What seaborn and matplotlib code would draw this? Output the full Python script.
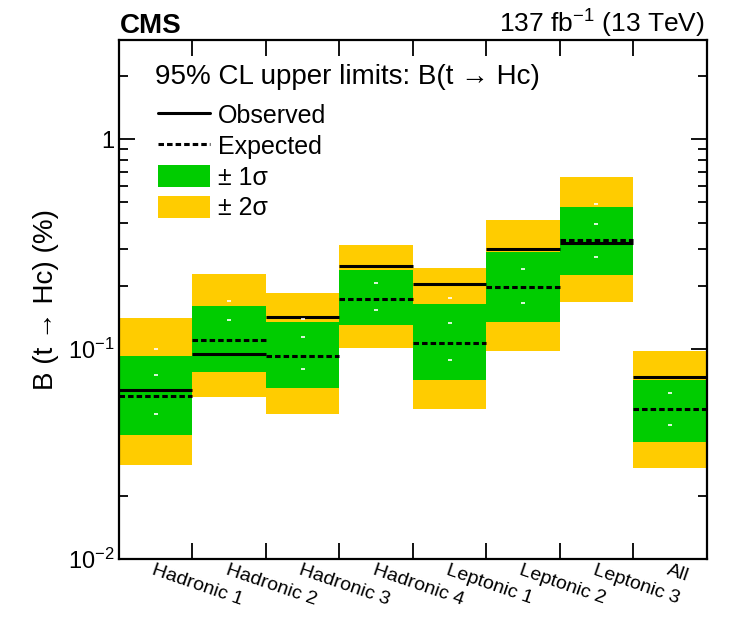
import numpy as np
import matplotlib
matplotlib.use("Agg")
import matplotlib.pyplot as plt
from matplotlib.lines import Line2D
from matplotlib.patches import Patch
from matplotlib.ticker import NullFormatter, FixedLocator
import seaborn as sns

# Upper limits on B(t -> Hc) in %, per analysis category
categories = ["Hadronic 1", "Hadronic 2", "Hadronic 3", "Hadronic 4",
              "Leptonic 1", "Leptonic 2", "Leptonic 3", "All"]
observed = [0.064, 0.095, 0.143, 0.249, 0.204, 0.301, 0.320, 0.0735]
expected = [0.0595, 0.111, 0.093, 0.174, 0.107, 0.197, 0.330, 0.0518]
minus_1sigma = [0.0391, 0.0777, 0.0654, 0.130, 0.071, 0.135, 0.225, 0.036]
plus_1sigma = [0.0929, 0.1607, 0.1345, 0.239, 0.164, 0.290, 0.474, 0.0714]
minus_2sigma = [0.0281, 0.0593, 0.0489, 0.101, 0.0518, 0.0985, 0.1675, 0.027]
plus_2sigma = [0.1405, 0.229, 0.185, 0.313, 0.243, 0.413, 0.664, 0.0985]

# Small white markers left over from the band graphs
marker_bin = [0, 0, 0, 1, 1, 2, 2, 2, 3, 3, 4, 4, 4, 5, 5, 6, 6, 6, 7, 7]
marker_val = [0.100, 0.0756, 0.049, 0.169, 0.137, 0.139, 0.114, 0.080,
              0.206, 0.154, 0.176, 0.133, 0.0886, 0.241, 0.166,
              0.49, 0.394, 0.276, 0.062, 0.0436]

y_major = [0.01, 0.1, 1]
y_major_labels = [r"$10^{-2}$", r"$10^{-1}$", "1"]

GREEN = "#00cc00"
YELLOW = "#ffcc00"

sns.set_style("ticks")
plt.rcParams.update({
    "font.family": ["Liberation Sans", "DejaVu Sans"],
    "mathtext.fontset": "custom",
    "mathtext.rm": "Liberation Sans",
    "mathtext.it": "Liberation Sans:italic",
    "text.color": "black",
    "axes.labelcolor": "black",
    "axes.edgecolor": "black",
    "xtick.color": "black",
    "ytick.color": "black",
    "xtick.direction": "in",
    "ytick.direction": "in",
    "xtick.top": True,
    "xtick.bottom": True,
    "ytick.left": True,
    "ytick.right": True,
    "xtick.minor.top": True,
    "xtick.minor.bottom": True,
    "ytick.minor.left": True,
    "ytick.minor.right": True,
})

fig = plt.figure(figsize=(7.30, 6.17), dpi=100)
ax = fig.add_axes([0.163, 0.094, 0.805, 0.841])

x = np.arange(len(categories))
lo2, hi2 = np.array(minus_2sigma), np.array(plus_2sigma)
lo1, hi1 = np.array(minus_1sigma), np.array(plus_1sigma)

ax.bar(x, hi2 - lo2, bottom=lo2, width=1.0, color=YELLOW, linewidth=0, zorder=1)
ax.bar(x, hi1 - lo1, bottom=lo1, width=1.0, color=GREEN, linewidth=0, zorder=2)
ax.hlines(expected, x - 0.5, x + 0.5, colors="black", linewidth=2.2,
          linestyles=(0, (1.8, 1.0)), zorder=3)
ax.hlines(observed, x - 0.5, x + 0.5, colors="black", linewidth=2.2, zorder=4)
ax.plot(marker_bin, marker_val, linestyle="none", marker="_", color="white",
        markersize=3, markeredgewidth=1.2, zorder=5)

ax.set_yscale("log")
ax.set_ylim(0.01, 2.97)
ax.set_xlim(-0.5, len(categories) - 0.5)

# y axis: decades labelled, 2..9 minor ticks, inward on both sides
y_minor = [m * d for d in y_major for m in range(2, 10)]
ax.yaxis.set_major_locator(FixedLocator(y_major))
ax.set_yticklabels(y_major_labels)
ax.yaxis.set_minor_locator(FixedLocator(y_minor))
ax.yaxis.set_minor_formatter(NullFormatter())
ax.tick_params(axis="y", which="major", length=11.5, width=1.3,
               labelsize=17, pad=3)
ax.tick_params(axis="y", which="minor", length=6.5, width=1.3)

# x axis: ticks at bin edges (bottom and top), labels at bin centres
ax.xaxis.set_major_locator(FixedLocator(x))
ax.set_xticklabels(categories, rotation=-19, ha="left", va="top",
                   rotation_mode="anchor", fontsize=14)
ax.xaxis.set_minor_locator(FixedLocator(np.arange(0.5, len(categories) - 0.5)))
ax.xaxis.set_minor_formatter(NullFormatter())
ax.tick_params(axis="x", which="major", length=0, pad=2)
ax.tick_params(axis="x", which="minor", length=11.5, width=1.3)

for sp in ax.spines.values():
    sp.set_linewidth(1.6)
    sp.set_zorder(10)

ax.set_xlabel("")
ax.set_ylabel("B (t → Hc) (%)", fontsize=20, labelpad=7)

fig.text(0.164, 1 - 33 / 617, "CMS", fontsize=20, fontweight="bold",
         ha="left", va="baseline")
fig.text(0.966, 1 - 33 / 617, r"137 fb$^{-1}$ (13 TeV)", fontsize=19,
         ha="right", va="baseline")

ax.text(0.061, 0.9286, "95% CL upper limits: B(t → Hc)", transform=ax.transAxes,
        fontsize=20, ha="left", va="center")

handles = [
    Line2D([], [], color="black", linewidth=2.2),
    Line2D([], [], color="black", linewidth=2.2, linestyle=(0, (1.8, 1.0))),
    Patch(facecolor=GREEN, edgecolor="none"),
    Patch(facecolor=YELLOW, edgecolor="none"),
]
labels = ["Observed", "Expected", "± 1σ", "± 2σ"]
ax.legend(handles, labels, loc="upper left", bbox_to_anchor=(0.066, 0.878),
          frameon=False, fontsize=18, handlelength=2.08, handleheight=0.95,
          labelspacing=0.26, handletextpad=0.32, borderpad=0.0,
          borderaxespad=0.0)

fig.savefig("out.png", dpi=100)
